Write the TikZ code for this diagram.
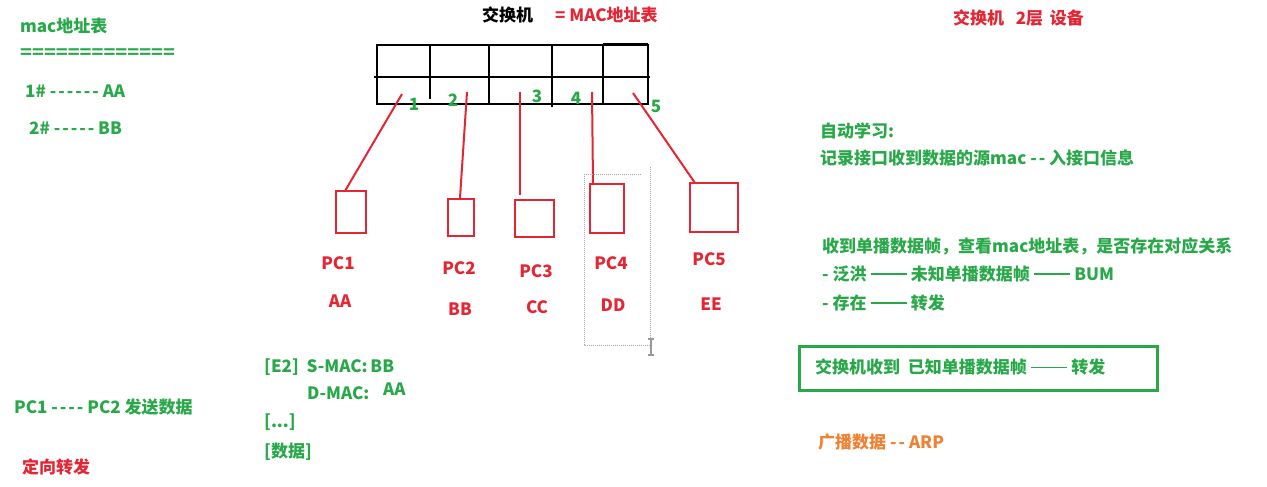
\documentclass[tikz,border=0pt]{standalone}
\usepackage{fontspec}
\newfontfamily\cjk{Noto Sans CJK SC}
\definecolor{tgreen}{RGB}{40,168,72}
\definecolor{tred}{RGB}{228,38,52}
\definecolor{torange}{RGB}{240,128,50}
\newcommand\dashpair{\rule[0.33em]{2.15em}{0.08em}}
\newcommand\hy{-\kern2pt}
\begin{document}
\begin{tikzpicture}[x=1pt,y=-1pt,
  txt/.style={inner sep=0pt,font=\cjk\fontsize{17}{19}\selectfont\bfseries},
  gtxt/.style={txt,text=tgreen,anchor=west},
  rtxt/.style={txt,text=tred},
  pcbox/.style={draw=tred,line width=2pt,inner sep=0pt,anchor=north west},
  link/.style={draw=tred,line width=2pt},
  sw/.style={draw=black,line width=2pt},
  pnum/.style={txt,text=tgreen}]
\useasboundingbox (0,0) rectangle (1267,487);
% ---- switch
\draw[sw] (377,45) rectangle (648,104);
\draw[sw] (374,77) -- (650,77);
\draw[sw] (430,45) -- (430,99);
\draw[sw] (489,45) -- (489,105);
\draw[sw] (552,45) -- (552,107);
\draw[sw] (603,44) -- (603,105);
\draw[sw] (603,44) -- (648,44);
% port numbers
\node[pnum] (n1) at (414,104) {1};
\node[pnum] (n2) at (453,100) {2};
\node[pnum] (n3) at (537,96) {3};
\node[pnum] (n4) at (576,98) {4};
\node[pnum] (n5) at (656,106) {5};
% port coordinates
\coordinate (p1) at (402,94);
\coordinate (p2) at (467,92);
\coordinate (p3) at (520,92);
\coordinate (p4) at (592,92);
\coordinate (p5) at (633,93);
% PCs
\node[pcbox,minimum width=30pt,minimum height=42pt] (pc1) at (335,190) {};
\node[pcbox,minimum width=26pt,minimum height=37pt] (pc2) at (447,198) {};
\node[pcbox,minimum width=39pt,minimum height=37pt] (pc3) at (514,199) {};
\node[pcbox,minimum width=34pt,minimum height=49pt] (pc4) at (589,183) {};
\node[pcbox,minimum width=48pt,minimum height=49pt] (pc5) at (689,182) {};
\coordinate (e1) at (345,191);
\coordinate (e2) at (460,198);
\coordinate (e3) at (520,195);
\coordinate (e4) at (593,183);
\coordinate (e5) at (695,183);
\draw[link] (p1) -- (e1);
\draw[link] (p2) -- (e2);
\draw[link] (p3) -- (e3);
\draw[link] (p4) -- (e4);
\draw[link] (p5) -- (e5);
% PC labels
\node[rtxt] (l1) at (338,263) {PC1};
\node[rtxt] (m1) at (340,301) {AA};
\node[rtxt] (l2) at (459,268) {PC2};
\node[rtxt] (m2) at (460,309) {BB};
\node[rtxt] (l3) at (536,271) {PC3};
\node[rtxt] (m3) at (537,307) {CC};
\node[rtxt] (l4) at (611,263) {PC4};
\node[rtxt] (m4) at (613,305) {DD};
\node[rtxt] (l5) at (709,259) {PC5};
\node[rtxt] (m5) at (711,304) {EE};
% dotted selection
\draw[gray!70,densely dotted,line width=1pt] (584,174) -- (642,174);
\draw[gray!70,densely dotted,line width=1pt] (584,174) -- (584,345) -- (650,345) -- (650,166);
\draw[gray!80,line width=1.3pt] (651,339) -- (651,355) (648,339) -- (654,339) (648,355) -- (654,355);
% title
\node[txt,anchor=west] (t1) at (482,15) {交换机};
\node[txt,anchor=west,text=tred] (t2) at (555,15) {= MAC地址表};
\node[txt,anchor=west,text=tred] (t3) at (953,18) {交换机\ \ \ 2层\,\ 设备};
% left texts
\node[gtxt] (a1) at (20,26) {mac地址表};
\node[gtxt] (a2) at (20,54) {\scalebox{1.15}[1]{=============}};
\node[gtxt] (a3) at (25,91) {1\# \hy\hy\hy\hy\hy- AA};
\node[gtxt] (a4) at (29,128) {2\# \hy\hy\hy\hy- BB};
\node[gtxt] (a5) at (14,407) {PC1 \hy\hy\hy- PC2 发送数据};
\node[txt,anchor=west,text=tred] (a6) at (22,467) {定向转发};
% frame
\node[gtxt] (f1) at (264,367) {[E2]\ \ S-MAC:\,BB};
\node[gtxt] (f2) at (307,393) {D-MAC:};
\node[gtxt] (f3) at (383,389) {AA};
\node[gtxt] (f4) at (264,422) {[...]};
\node[gtxt] (f5) at (264,452) {[数据]};
% right texts
\node[gtxt] (r1) at (820,131) {自动学习:};
\node[gtxt] (r2) at (820,158) {记录接口收到数据的源mac \hy- 入接口信息};
\node[gtxt] (r3) at (822,246) {收到单播数据帧，查看mac地址表，是否存在对应关系};
\node[gtxt] (r4) at (822,274) {- 泛洪 \dashpair{} 未知单播数据帧 \dashpair{} BUM};
\node[gtxt] (r5) at (822,303) {- 存在 \dashpair{} 转发};
\node[draw=tgreen,line width=2.5pt,minimum width=358pt,minimum height=44pt,anchor=north west] (box) at (798,345) {};
\node[gtxt] (r6) at (815,367) {交换机收到\ \ 已知单播数据帧 \dashpair{} 转发};
\node[txt,anchor=west,text=torange] (r7) at (818,442) {广播数据 \hy- ARP};
\end{tikzpicture}
\end{document}
